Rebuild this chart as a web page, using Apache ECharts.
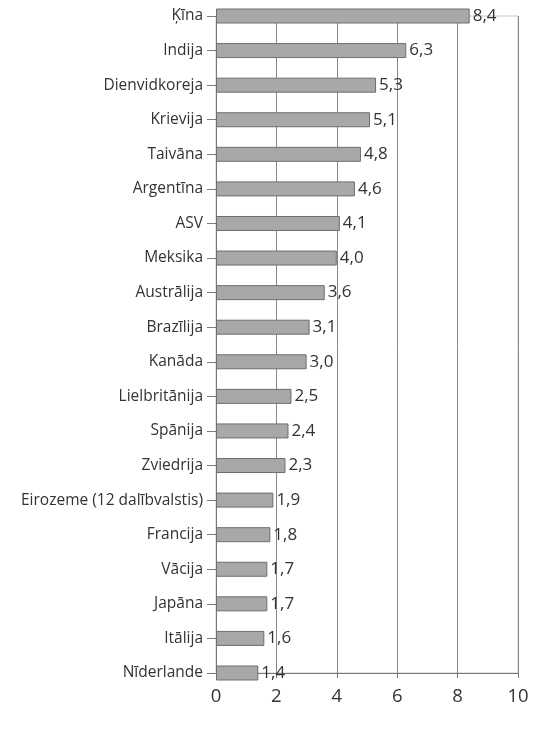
<!DOCTYPE html>
<html><head><meta charset="utf-8">
<script src="https://cdn.jsdelivr.net/npm/echarts@6/dist/echarts.min.js"></script>
<style>html,body{margin:0;padding:0;background:#fff}#c{width:550px;height:733px}</style>
</head><body><div id="c"></div>
<script>
const categories = ["Ķīna","Indija","Dienvidkoreja","Krievija","Taivāna","Argentīna","ASV","Meksika","Austrālija","Brazīlija","Kanāda","Lielbritānija","Spānija","Zviedrija","Eirozeme (12 dalībvalstis)","Francija","Vācija","Japāna","Itālija","Nīderlande"];
const values = [8.4,6.3,5.3,5.1,4.8,4.6,4.1,4.0,3.6,3.1,3.0,2.5,2.4,2.3,1.9,1.8,1.7,1.7,1.6,1.4];
const xTicks = [0,2,4,6,8,10];

const chart = echarts.init(document.getElementById('c'));
const font = '"Open Sans", "DejaVu Sans", sans-serif';
chart.setOption({
  animation: false,
  grid: { left: 216, right: 32, top: 16, bottom: 60, show: true, borderColor: '#c8c8c8', borderWidth: 1 },
  xAxis: {
    type: 'value', min: 0, max: 10, interval: 2,
    axisLine: { show: true, lineStyle: { color: '#777', width: 1 } },
    axisTick: { show: true, length: 5, lineStyle: { color: '#777' } },
    splitLine: { show: true, lineStyle: { color: '#888', width: 1 } },
    axisLabel: { color: '#333', fontSize: 18.5, fontFamily: font, margin: 14, formatter: v => xTicks.includes(v) ? String(v) : '' }
  },
  yAxis: {
    type: 'category', data: categories, inverse: true, boundaryGap: false,
    axisLine: { show: true, lineStyle: { color: '#777', width: 1 } },
    axisTick: { show: true, length: 9, lineStyle: { color: '#777' } },
    axisLabel: { color: '#333', fontSize: 15.5, fontFamily: font, margin: 13 },
    splitLine: { show: false }
  },
  series: [{
    type: 'bar', data: values, barWidth: 15,
    itemStyle: { color: '#a8a8a8', borderColor: '#6e6e6e', borderWidth: 1 },
    label: { show: true, position: 'right', distance: 3, color: '#333', fontSize: 17, fontFamily: font,
      formatter: p => p.value.toFixed(1).replace('.', ',') }
  }]
});
</script></body></html>
